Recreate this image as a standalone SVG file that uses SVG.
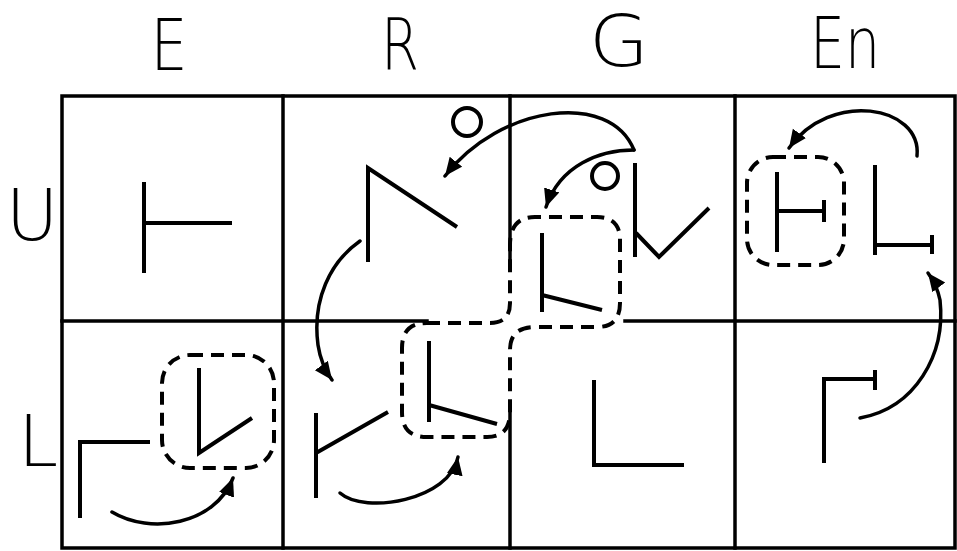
<svg xmlns="http://www.w3.org/2000/svg" width="957" height="551" viewBox="0 0 957 551">
<style>
.lbl{font-family:"DejaVu Sans","Liberation Sans",sans-serif;font-weight:200;font-size:72px;fill:#000;text-anchor:middle}
.grid{stroke:#000;stroke-width:3.5;fill:none;stroke-linecap:square}
.sh{stroke:#000;stroke-width:4;fill:none;stroke-linecap:butt;stroke-linejoin:miter}
.arr{stroke:#000;stroke-width:3.5;fill:none;stroke-linecap:round}
.dash{stroke:#000;stroke-width:4;fill:none;stroke-dasharray:13 8}
</style>
<defs>
<marker id="ah" markerUnits="userSpaceOnUse" markerWidth="22" markerHeight="20" refX="18" refY="8" orient="auto">
<path d="M0,0 L18,8 L0,16 z" fill="#000"/>
</marker>
</defs>
<rect width="957" height="551" fill="#fff"/>
<g id="labels">
<text class="lbl" x="169" y="70" textLength="37" lengthAdjust="spacingAndGlyphs">E</text>
<text class="lbl" x="400" y="70" textLength="38" lengthAdjust="spacingAndGlyphs">R</text>
<text class="lbl" x="619" y="66" textLength="60" lengthAdjust="spacingAndGlyphs">G</text>
<text class="lbl" x="845" y="68" textLength="70" lengthAdjust="spacingAndGlyphs">En</text>
<text class="lbl" x="32" y="240">U</text>
<text class="lbl" x="38" y="466">L</text>
</g>
<g id="grid">
<path class="grid" d="M62 96 H955 V548 H62 Z"/>
<path class="grid" d="M283 96 V548"/>
<path class="grid" d="M510 96 V262 M510 413 V548"/>
<path class="grid" d="M735 96 V548"/>
<path class="grid" d="M62 321 H427 M625 321 H955"/>
</g>
<g id="group-box">
<path class="dash" d="M427 323 H490 Q510 323 510 303 V245 Q510 217 535 217 H597 Q620 217 620 240 V303 Q620 327 597 327 H535 Q510 327 510 350 V412 Q510 437 487 437 H427 Q402 437 402 412 V348 Q402 323 427 323 Z"/>
</g>
<g id="E-U"><path class="sh" d="M144 182 V273 M144 223 H232"/></g>
<g id="R-U"><path class="sh" d="M368 262 V168 L457 227"/><circle cx="467" cy="122" r="14" class="sh" stroke-width="3.5"/></g>
<g id="G-U"><path class="sh" d="M635 163 V257 M636 233 L659 257 L709 208"/><circle cx="605" cy="176" r="13" class="sh" stroke-width="3.5"/><path class="sh" d="M542 233 V312 M542 295 L602 310"/></g>
<g id="En-U">
<rect class="dash" x="747" y="157" width="97" height="108" rx="26"/>
<path class="sh" d="M777 172 V252 M777 211 H824 M824 200 V222"/>
<path class="sh" d="M875 165 V255 M875 245 H932 M932 235 V254"/>
</g>
<g id="E-L">
<rect class="dash" x="162" y="355" width="112" height="113" rx="28"/>
<path class="sh" d="M199 368 V453 L252 418"/>
<path class="sh" d="M80 518 V442 H150"/>
</g>
<g id="R-L">
<path class="sh" d="M316 413 V498 M316 453 L388 412"/>
<path class="sh" d="M429 341 V422 M429 405 L497 424"/>
</g>
<g id="G-L"><path class="sh" d="M594 380 V465 H684"/></g>
<g id="En-L"><path class="sh" d="M824 463 V379 H875 M875 370 V390"/></g>
<g id="connectors">
<path class="arr" marker-end="url(#ah)" d="M634 150 C610 90 500 105 445 176"/>
<path class="arr" marker-end="url(#ah)" d="M634 150 C600 150 560 165 546 207"/>
<path class="arr" marker-end="url(#ah)" d="M917 156 C922 105 830 90 789 148"/>
<path class="arr" marker-end="url(#ah)" d="M860 418 C915 408 946 355 940 300 Q937 285 928 273"/>
<path class="arr" marker-end="url(#ah)" d="M360 241 C330 262 312 300 318 345 Q321 365 332 380"/>
<path class="arr" marker-end="url(#ah)" d="M112 512 C150 535 215 525 233 478"/>
<path class="arr" marker-end="url(#ah)" d="M340 493 C365 515 450 500 458 457"/>
</g>
</svg>
